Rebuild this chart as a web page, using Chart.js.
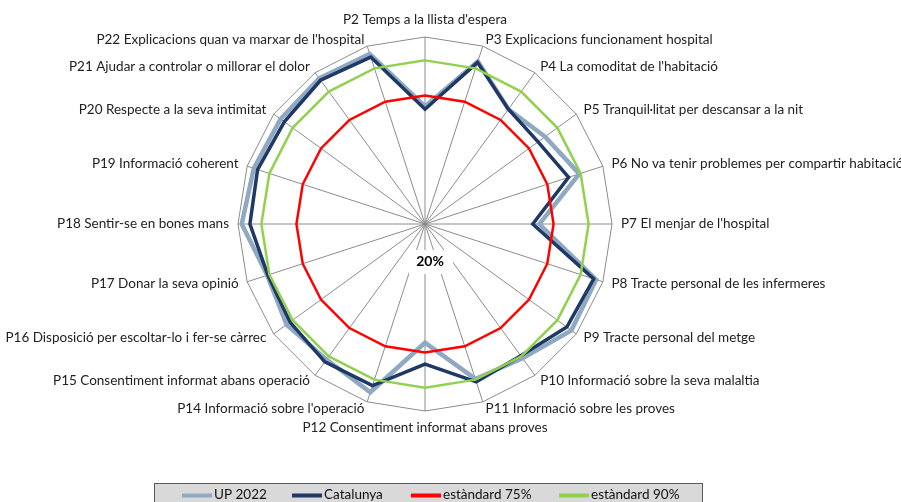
<!DOCTYPE html>
<html><head><meta charset="utf-8">
<script src="https://cdn.jsdelivr.net/npm/chart.js@4"></script>
<style>html,body{margin:0;padding:0;background:#fff;overflow:hidden}canvas{display:block}</style>
</head><body>
<canvas id="c" width="901" height="502"></canvas>
<script>
const categories = [
  "P2 Temps a la llista d'espera",
  "P3 Explicacions funcionament hospital",
  "P4 La comoditat de l'habitació",
  "P5 Tranquil·litat per descansar a la nit",
  "P6 No va tenir problemes per compartir habitació",
  "P7 El menjar de l'hospital",
  "P8 Tracte personal de les infermeres",
  "P9 Tracte personal del metge",
  "P10 Informació sobre la seva malaltia",
  "P11 Informació sobre les proves",
  "P12 Consentiment informat abans proves",
  "P14 Informació sobre l'operació",
  "P15 Consentiment informat abans operació",
  "P16 Disposició per escoltar-lo i fer-se càrrec",
  "P17 Donar la seva opinió",
  "P18 Sentir-se en bones mans",
  "P19 Informació coherent",
  "P20 Respecte a la seva intimitat",
  "P21 Ajudar a controlar o millorar el dolor",
  "P22 Explicacions quan va marxar de l'hospital"
];
const up2022 = [70.3, 93.2, 80.7, 83.5, 89.4, 68.9, 97.0, 97.4, 91.0, 89.7, 70.8, 95.7, 91.7, 93.2, 91.0, 98.4, 97.0, 96.4, 97.0, 96.5];
const catalunya = [69.1, 92.7, 80.7, 79.8, 84.6, 66.1, 95.9, 95.0, 89.7, 91.0, 79.9, 92.7, 92.9, 91.4, 90.7, 94.9, 95.3, 94.4, 96.0, 95.1];
const standard75 = [75, 75, 75, 75, 75, 75, 75, 75, 75, 75, 75, 75, 75, 75, 75, 75, 75, 75, 75, 75];
const standard90 = [90, 90, 90, 90, 90, 90, 90, 90, 90, 90, 90, 90, 90, 90, 90, 90, 90, 90, 90, 90];
const seriesNames = ["UP 2022", "Catalunya", "estàndard 75%", "estàndard 90%"];
const scaleMin = 20, scaleMax = 100;
const centerTickLabel = "20%";

const FONT = "Lato, 'Noto Sans', sans-serif";

const labelPlugin = {
  id: 'labels',
  afterDraw(chart) {
    const ctx = chart.ctx, s = chart.scales.r;
    const R = s.drawingArea, xc = s.xCenter, yc = s.yCenter;
    ctx.save();
    ctx.font = "13.5px " + FONT;
    ctx.fillStyle = '#222';
    ctx.textBaseline = 'middle';
    chart.data.labels.forEach((lab, i) => {
      const px = s.getPointPosition(i, R + 9);
      const py = s.getPointPosition(i, R + 7);
      let align = 'center', y = py.y;
      if (px.x > xc + 1) align = 'left';
      else if (px.x < xc - 1) align = 'right';
      else y = py.y + (py.y < yc ? -10 : 10);
      ctx.textAlign = align;
      ctx.fillText(lab, px.x, y);
    });
    // center tick label (scale minimum)
    ctx.fillStyle = '#fff';
    ctx.fillRect(xc - 16, yc + 26, 44, 24);
    ctx.fillStyle = '#000';
    ctx.font = "bold 14px " + FONT;
    ctx.textAlign = 'center';
    ctx.fillText(centerTickLabel, xc + 5, yc + 37);
    // legend
    const lx = 154, ly = 483;
    ctx.fillStyle = '#d9d9d9';
    ctx.fillRect(lx, ly, 548, 22);
    ctx.strokeStyle = '#595959';
    ctx.lineWidth = 1;
    ctx.strokeRect(lx + 0.5, ly + 0.5, 548, 22);
    const starts = [182, 292, 411, 559];
    ctx.font = "13.5px " + FONT;
    ctx.textAlign = 'left';
    chart.data.datasets.forEach((ds, k) => {
      ctx.strokeStyle = ds.borderColor;
      ctx.lineWidth = 4;
      ctx.beginPath();
      ctx.moveTo(starts[k], 495.5);
      ctx.lineTo(starts[k] + 30, 495.5);
      ctx.stroke();
      ctx.fillStyle = '#111';
      ctx.fillText(ds.label, starts[k] + 32, 495);
    });
    ctx.restore();
  }
};

new Chart(document.getElementById('c'), {
  type: 'radar',
  data: {
    labels: categories,
    datasets: [
      { label: seriesNames[0], data: up2022, borderColor: '#8EA9C1', borderWidth: 4.5, order: 4 },
      { label: seriesNames[1], data: catalunya, borderColor: '#1F3864', borderWidth: 3.5, order: 3 },
      { label: seriesNames[2], data: standard75, borderColor: '#FF0000', borderWidth: 2.5, order: 2 },
      { label: seriesNames[3], data: standard90, borderColor: '#92D050', borderWidth: 2.5, order: 1 }
    ]
  },
  options: {
    responsive: false,
    animation: false,
    devicePixelRatio: 1,
    layout: { padding: { left: 0, right: 51, top: 37, bottom: 91 } },
    elements: {
      line: { fill: false, tension: 0, borderJoinStyle: 'miter' },
      point: { radius: 0, hoverRadius: 0 }
    },
    plugins: { legend: { display: false }, tooltip: { enabled: false } },
    scales: {
      r: {
        min: scaleMin, max: scaleMax,
        ticks: { display: false, stepSize: 80 },
        grid: { color: '#8c8c8c', lineWidth: 1, circular: false },
        angleLines: { color: '#8c8c8c', lineWidth: 1 },
        pointLabels: { display: false }
      }
    }
  },
  plugins: [labelPlugin]
});
</script>
</body></html>
